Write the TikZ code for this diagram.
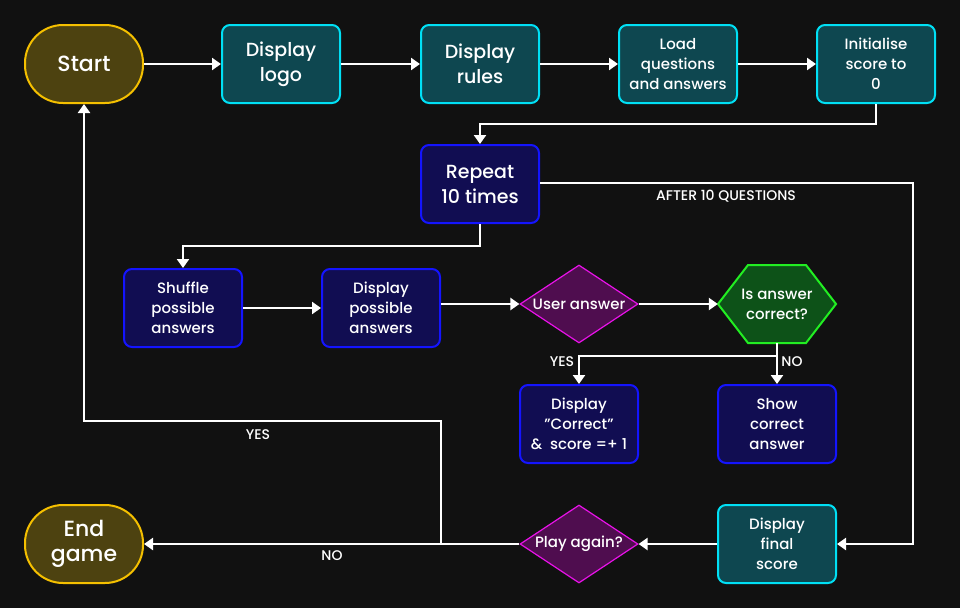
\documentclass[tikz,border=0pt]{standalone}
\usepackage{fontspec}
\setmainfont{Poppins}[UprightFont={* Medium}]
\usetikzlibrary{shapes.geometric, arrows.meta}

\definecolor{bg}{HTML}{111111}
\definecolor{termfill}{HTML}{4D4210}
\definecolor{termline}{HTML}{F5C000}
\definecolor{tealfill}{HTML}{0E4750}
\definecolor{tealline}{HTML}{00E0F5}
\definecolor{navyfill}{HTML}{110D52}
\definecolor{navyline}{HTML}{1414FF}
\definecolor{purpfill}{HTML}{4F0D4F}
\definecolor{purpline}{HTML}{E812E8}
\definecolor{greenfill}{HTML}{0D5218}
\definecolor{greenline}{HTML}{22EE22}

\begin{document}
\begin{tikzpicture}[x=1pt,y=-1pt,
		every node/.style={text=white,align=center,font=\fontsize{15}{20}\selectfont},
		box/.style={draw,rounded corners=8pt,line width=2pt,minimum width=118pt,minimum height=78pt,inner sep=2pt},
		termbox/.style={box,draw=termline,fill=termfill,rounded corners=38pt,font=\fontsize{22}{25}\selectfont},
		tealbox/.style={box,draw=tealline,fill=tealfill},
		navybox/.style={box,draw=navyline,fill=navyfill},
		big/.style={font=\fontsize{19}{25}\selectfont},
		choice/.style={diamond,aspect=1.5,draw=purpline,fill=purpfill,line width=1.2pt,minimum width=118pt,minimum height=78pt,inner sep=0pt},
		check/.style={minimum width=118pt,minimum height=78pt,inner sep=0pt},
		hexline/.style={draw=greenline,fill=greenfill,line width=2pt},
		arr/.style={draw=white,line width=2.8pt,-{Triangle[length=9pt,width=12pt]}},
		lbl/.style={font=\fontsize{14}{16}\selectfont}]
		\fill[bg] (0,0) rectangle (960,608);
	
		% top row
		\node[termbox] (start) at (84,64) {Start};
		\node[tealbox,big] (logo) at (281,64) {Display\\logo};
		\node[tealbox,big] (rules) at (480,64) {Display\\rules};
		\node[tealbox] (load) at (678,64) {Load\\questions\\and answers};
		\node[tealbox] (init) at (876,64) {Initialise\\score to\\0};
	
		% loop
		\node[navybox,big] (rep) at (480,184) {Repeat\\10 times};
		\node[navybox] (shuf) at (183,308) {Shuffle\\possible\\answers};
		\node[navybox] (poss) at (381,308) {Display\\possible\\answers};
		\node[choice] (user) at (579,304) {User answer};
		\filldraw[hexline,shift={(777,304)}] (-59,0) -- (-29,-39) -- (29,-39) -- (59,0) -- (29,39) -- (-29,39) -- cycle;
		\node[check] (isok) at (777,304) {Is answer\\correct?};
		\node[navybox] (corr) at (579,424) {Display\\"Correct"\\\&\ \ score =+ 1};
		\node[navybox] (show) at (777,424) {Show\\correct\\answer};
	
		% bottom row
		\node[tealbox] (final) at (777,544) {Display\\final\\score};
		\node[choice] (again) at (579,544) {Play again?};
		\node[termbox] (end) at (84,544) {End\\game};
	
		\coordinate (after) at (913,183);
		\coordinate (fork) at (777,356);
		\coordinate (yes) at (441,544);
		\coordinate (back) at (441,421);
	
		\draw[arr] (start) -- (logo);
		\draw[arr] (logo) -- (rules);
		\draw[arr] (rules) -- (load);
		\draw[arr] (load) -- (init);
		\draw[arr] (init.south) -- ++(0,20) -| (rep.north);
		\draw[arr] (rep.south) -- ++(0,22) -| (shuf.north);
		\draw[arr] (shuf) -- (poss);
		\draw[arr] (poss.east |- user.west) -- (user.west);
		\draw[arr] (user) -- (isok);
		\draw[arr] (isok.south) -- (show.north);
		\draw[arr] (fork) -| (corr.north);
		\draw[arr] (rep.east |- after) -- (after) |- (final.east);
		\draw[arr] (final) -- (again);
		\draw[arr] (again) -- (end);
		\draw[arr] (yes) -- (back) -| (start.south);
	
		\node[lbl] (lafter) at (726,196) {AFTER 10 QUESTIONS};
		\node[lbl] (lyes1) at (562,362) {YES};
		\node[lbl] (lno1) at (792,362) {NO};
		\node[lbl] (lyes2) at (258,435) {YES};
		\node[lbl] (lno2) at (332,556) {NO};
	\end{tikzpicture}
\end{document}
